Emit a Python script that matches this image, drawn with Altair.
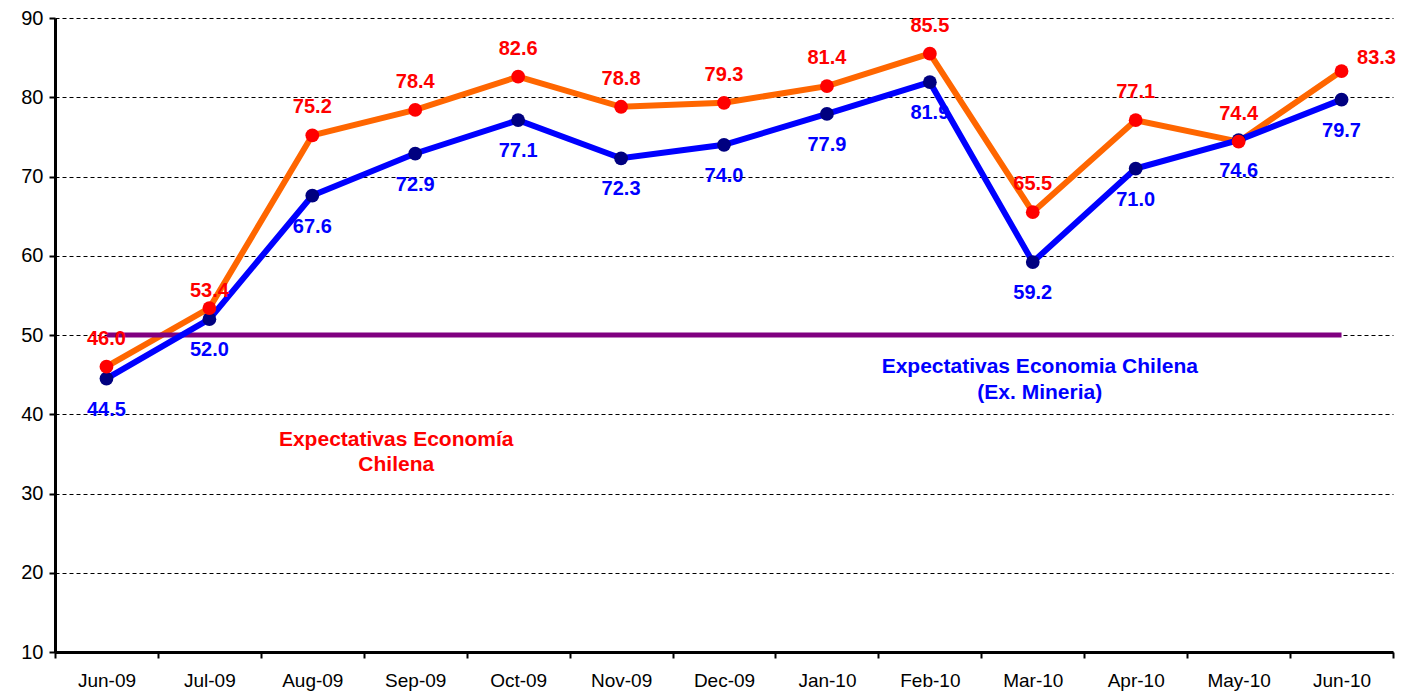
import altair as alt
import pandas as pd

months = ["Jun-09", "Jul-09", "Aug-09", "Sep-09", "Oct-09", "Nov-09", "Dec-09",
          "Jan-10", "Feb-10", "Mar-10", "Apr-10", "May-10", "Jun-10"]
economia = [46.0, 53.4, 75.2, 78.4, 82.6, 78.8, 79.3, 81.4, 85.5, 65.5, 77.1, 74.4, 83.3]
ex_mineria = [44.5, 52.0, 67.6, 72.9, 77.1, 72.3, 74.0, 77.9, 81.9, 59.2, 71.0, 74.6, 79.7]
neutral = 50
y_ticks = [10, 20, 30, 40, 50, 60, 70, 80, 90]

df_e = pd.DataFrame({"month": months, "value": economia,
                     "label": [f"{v:.1f}" for v in economia]})
df_m = pd.DataFrame({"month": months, "value": ex_mineria,
                     "label": [f"{v:.1f}" for v in ex_mineria]})
df_ref = pd.DataFrame({"month": [months[0]], "end": [months[-1]], "value": [neutral]})
df_ann_red = pd.DataFrame({"month": ["Sep-09"], "value": [36.7],
                           "text": ["Expectativas Economía\nChilena"]})
df_ann_blue = pd.DataFrame({"month": ["Mar-10"], "value": [45.9],
                            "text": ["Expectativas Economia Chilena\n(Ex. Mineria)"]})

FONT = "Liberation Sans"
x_scale = alt.Scale(domain=months, paddingInner=0, paddingOuter=0)
y_scale = alt.Scale(domain=[10, 90], nice=False)

x_enc = alt.X("month:N", sort=months, scale=x_scale, title=None,
              axis=alt.Axis(title=None, labelAngle=0, labelFontSize=19, labelFont=FONT,
                            labelColor="black", labelPadding=13, tickBand="extent",
                            tickColor="black", tickSize=6, tickWidth=2,
                            domainColor="black", domainWidth=3, grid=False))
y_enc = alt.Y("value:Q", scale=y_scale, title=None,
              axis=alt.Axis(title=None, values=y_ticks, labelFontSize=20, labelFont=FONT,
                            labelColor="black", labelPadding=6, tickColor="black",
                            tickSize=6, tickWidth=2, domainColor="black", domainWidth=3,
                            grid=True, gridColor="black", gridDash=[4, 3], gridWidth=1))
x_plain = alt.X("month:N", sort=months, scale=x_scale, title=None)
y_plain = alt.Y("value:Q", scale=y_scale, title=None)

base_e = alt.Chart(df_e).encode(x=x_enc, y=y_enc)
base_m = alt.Chart(df_m).encode(x=x_plain, y=y_plain)

ref = alt.Chart(df_ref).mark_rule(color="#800080", strokeWidth=5).encode(
    x=x_plain, x2="end:N", y=y_plain)

line_e = base_e.mark_line(color="#FF6600", strokeWidth=6)
line_m = base_m.mark_line(color="#0000FF", strokeWidth=6)
pts_m = base_m.mark_circle(color="#000080", size=190, opacity=1)
pts_e = base_e.mark_circle(color="#FF0000", size=190, opacity=1)

red_text = dict(color="#FF0000", font=FONT, fontWeight="bold", fontSize=20, baseline="middle")
lab_e = base_e.mark_text(dy=-28, **red_text).encode(text="label:N").transform_filter(
    "datum.month != 'Jun-10' && datum.month != 'Jul-09'")
lab_e_jul = base_e.mark_text(dy=-17, **red_text).encode(text="label:N").transform_filter(
    "datum.month == 'Jul-09'")
lab_e_last = base_e.mark_text(dx=35, dy=-13, **red_text).encode(text="label:N").transform_filter(
    "datum.month == 'Jun-10'")
lab_m = base_m.mark_text(color="#0000FF", font=FONT, fontWeight="bold", fontSize=20,
                         dy=31, baseline="middle").encode(text="label:N")

ann_red = alt.Chart(df_ann_red).mark_text(color="#FF0000", font=FONT, fontWeight="bold",
                                          fontSize=21, lineBreak="\n", lineHeight=25,
                                          dx=-19, baseline="middle", align="center").encode(
    x=x_plain, y=y_plain, text="text:N")
ann_blue = alt.Chart(df_ann_blue).mark_text(color="#0000FF", font=FONT, fontWeight="bold",
                                            fontSize=21, lineBreak="\n", lineHeight=26,
                                            dx=7, baseline="middle", align="center").encode(
    x=x_plain, y=y_plain, text="text:N")

chart = alt.layer(line_e, ref, line_m, pts_m, pts_e, lab_e, lab_e_jul, lab_e_last, lab_m,
                  ann_red, ann_blue).properties(
    width=1338, height=634,
    autosize=alt.AutoSizeParams(type="none"),
    padding={"left": 47, "top": 10, "right": 10, "bottom": 40},
    background="white",
).configure_view(strokeWidth=0)

chart.save("out.html", embed_options={"renderer": "svg", "actions": False})
